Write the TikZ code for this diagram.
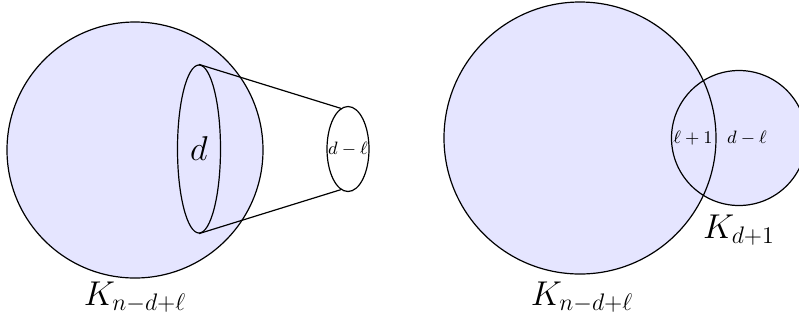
\documentclass[tikz,border=0pt]{standalone}
\usetikzlibrary{shapes.geometric}
\begin{document}
\begin{tikzpicture}[x=0.5bp,y=-0.5bp,line width=0.6pt,
  lav/.style={fill=blue!10},
  circ/.style={circle,inner sep=0pt},
  ell/.style={ellipse,draw,inner sep=0pt},
  big/.style={font=\fontsize{16.5}{19}\selectfont},
  small/.style={font=\fontsize{9}{10}\selectfont,inner sep=0pt}]
\useasboundingbox (0,0) rectangle (799,320);
% left figure
\node[circ,lav,draw,minimum size=128bp] (L) at (135,150) {};
\node[ell,minimum width=21.5bp,minimum height=84bp] (d) at (199,149) {};
\node[ell,minimum width=21bp,minimum height=42.5bp] (dl) at (348,149) {};
\draw (d.north) -- (dl.100);
\draw (d.south) -- (dl.-100);
\node[big] (dt) at (199,149) {$d$};
\node[small] (dlt) at (348,149) {$d-\ell$};
\node[big] (KL) at (135,297) {$K_{n-d+\ell}$};
% right figure
\path[lav] (580,138) circle[radius=136];
\path[lav] (739,138) circle[radius=67.5];
\node[circ,draw,minimum size=136bp] (R) at (580,138) {};
\node[circ,draw,minimum size=67.5bp] (S) at (739,138) {};
\node[small] (lp) at (693,138) {$\ell+1$};
\node[small] (dm) at (747,138) {$d-\ell$};
\node[big] (KR) at (582,297) {$K_{n-d+\ell}$};
\node[big] (KD) at (739,230) {$K_{d+1}$};
\end{tikzpicture}
\end{document}
